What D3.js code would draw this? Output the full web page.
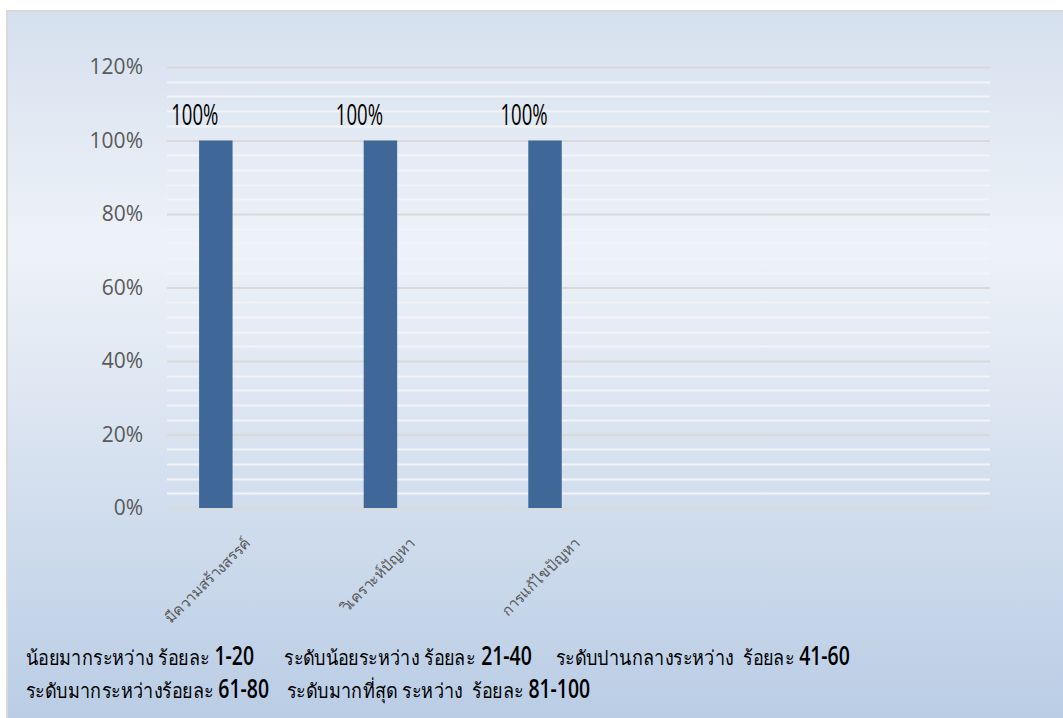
<!DOCTYPE html>
<html>
<head>
<meta charset="utf-8">
<script src="https://cdn.jsdelivr.net/npm/d3@7"></script>
<style>
  html, body { margin: 0; padding: 0; background: #ffffff; }
  svg { display: block; }
</style>
</head>
<body>
<svg id="chart" width="1063" height="718"></svg>
<script>
// ---- data ----
const categories = ["มีความสร้างสรรค์", "วิเคราะห์ปัญหา", "การแก้ไขปัญหา", "", ""];
const values = [1, 1, 1, null, null];
const seriesSlots = [0, 1, 2];           // cluster slots; only the first is filled
const yTicks = [0, 0.2, 0.4, 0.6, 0.8, 1.0, 1.2];
const yMinorTicks = d3.range(0, 1.2001, 0.04);
const noteLine1 = ["น้อยมากระหว่าง ร้อยละ", "1-20", "ระดับน้อยระหว่าง ร้อยละ", "21-40", "ระดับปานกลางระหว่าง  ร้อยละ", "41-60"];
const noteLine2 = ["ระดับมากระหว่างร้อยละ", "61-80", "ระดับมากที่สุด ระหว่าง  ร้อยละ", "81-100"];

// ---- layout ----
const svg = d3.select("#chart");
const W = 1063, H = 718;
const plot = {left: 167, right: 990, top: 67, bottom: 508};
const condensed = "'Open Sans', 'Noto Sans', sans-serif";

const defs = svg.append("defs");
const grad = defs.append("linearGradient").attr("id", "bg")
  .attr("x1", 0).attr("y1", 0).attr("x2", 0).attr("y2", 1);
grad.append("stop").attr("offset", "0%").attr("stop-color", "#d5e0ee");
grad.append("stop").attr("offset", "33%").attr("stop-color", "#eef2f8");
grad.append("stop").attr("offset", "100%").attr("stop-color", "#bacde5");

svg.append("rect").attr("x", 0).attr("y", 0).attr("width", W).attr("height", H).attr("fill", "#ffffff");
svg.append("rect")
  .attr("x", 7).attr("y", 11).attr("width", W - 6).attr("height", H - 10)
  .attr("fill", "url(#bg)")
  .attr("stroke", "#d9d9d9").attr("stroke-width", 2);

const y = d3.scaleLinear().domain([0, 1.2]).range([plot.bottom, plot.top]);
const x0 = d3.scaleBand().domain(d3.range(categories.length))
  .range([plot.left, plot.right]).paddingInner(0.39).paddingOuter(0.195);
const x1 = d3.scaleBand().domain(seriesSlots).range([0, x0.bandwidth()]);

// minor gridlines
svg.append("g").selectAll("line")
  .data(yMinorTicks.filter(v => !yTicks.some(t => Math.abs(t - v) < 1e-6)))
  .join("line")
  .attr("x1", plot.left).attr("x2", plot.right)
  .attr("y1", d => Math.round(y(d)) + 0.5).attr("y2", d => Math.round(y(d)) + 0.5)
  .attr("stroke", "#f2f4f8").attr("stroke-width", 2);

// major gridlines via axis
const yAxis = d3.axisLeft(y).tickValues(yTicks)
  .tickSize(-(plot.right - plot.left)).tickPadding(24)
  .tickFormat(d => Math.round(d * 100) + "%");
const gy = svg.append("g").attr("transform", `translate(${plot.left},0)`).call(yAxis);
gy.select(".domain").remove();
gy.selectAll(".tick line").attr("stroke", "#d9d9d9").attr("stroke-width", 2);
gy.selectAll(".tick text")
  .attr("fill", "#595959")
  .style("font-family", "'Open Sans', 'Noto Sans', sans-serif")
  .style("font-size", "21px");

// bars
const data = values.map((v, i) => ({i, v})).filter(d => d.v != null);
svg.append("g").selectAll("rect")
  .data(data).join("rect")
  .attr("x", d => x0(d.i) + x1(0))
  .attr("width", x1.bandwidth())
  .attr("y", d => y(d.v))
  .attr("height", d => y(0) - y(d.v))
  .attr("fill", "#3f6899");

// data labels (condensed look)
svg.append("g").selectAll("text")
  .data(data).join("text")
  .attr("transform", d => `translate(${x0(d.i) + x1(0) + x1.bandwidth() / 2 - 21},${y(d.v) - 16}) scale(0.64,1)`)
  .attr("text-anchor", "middle")
  .attr("fill", "#000")
  .style("font-family", condensed)
  .style("font-size", "29px")
  .text(d => Math.round(d.v * 100) + "%");

// category labels
svg.append("g").selectAll("text")
  .data(categories.map((c, i) => ({c, i})).filter(d => d.c))
  .join("text")
  .attr("transform", d => `translate(${x0(d.i) + x0.bandwidth() / 2 + 2},${plot.bottom + 36}) rotate(-45)`)
  .attr("text-anchor", "end")
  .attr("fill", "#595959")
  .style("font-family", "'Noto Sans', sans-serif")
  .style("font-size", "15px")
  .text(d => d.c);

// notes: alternating Thai text / bold-condensed numbers
function note(line, yy, gaps) {
  let x = 26;
  line.forEach((s, k) => {
    const isNum = k % 2 === 1;
    const sx = isNum ? 0.72 : 0.9;
    const t = svg.append("text")
      .attr("transform", `translate(${x},${yy}) scale(${sx},1)`)
      .attr("fill", "#000")
      .style("white-space", "pre")
      .style("font-family", isNum ? condensed : "'Noto Sans', sans-serif")
      .style("font-weight", isNum ? 600 : 400)
      .style("font-size", isNum ? "27px" : "20px")
      .text(s);
    x += t.node().getComputedTextLength() * sx + (gaps[k] || 0);
  });
}
note(noteLine1, 665, [5, 30, 6, 24, 5]);
note(noteLine2, 698, [5, 18, 5]);
</script>
</body>
</html>
